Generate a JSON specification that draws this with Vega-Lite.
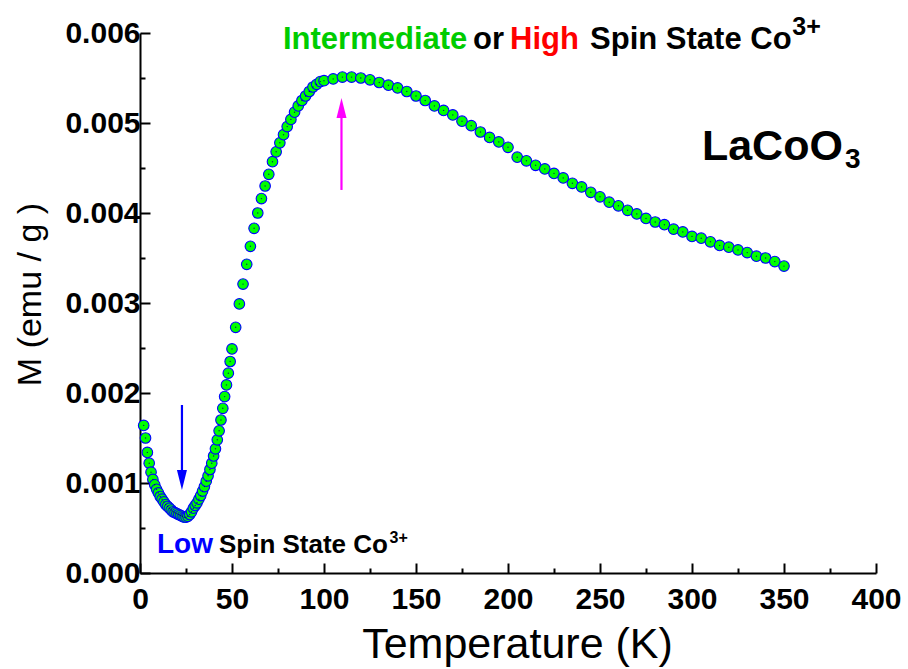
{
  "$schema": "https://vega.github.io/schema/vega-lite/v6.json",
  "width": 736,
  "height": 540,
  "autosize": {"type": "none"},
  "padding": {"left": 140, "top": 33, "right": 32, "bottom": 96},
  "background": "white",
  "config": {"view": {"stroke": null}},
  "datasets": {
    "m": [
      {"T": 2, "M": 0.00164}, {"T": 3, "M": 0.00150}, {"T": 4, "M": 0.00134}, {"T": 5, "M": 0.00122},
      {"T": 6, "M": 0.00112}, {"T": 7, "M": 0.00104}, {"T": 8, "M": 0.00098}, {"T": 9, "M": 0.00093},
      {"T": 10, "M": 0.00089}, {"T": 11, "M": 0.00085}, {"T": 12, "M": 0.00082}, {"T": 13, "M": 0.00079},
      {"T": 14, "M": 0.00076}, {"T": 15, "M": 0.00074}, {"T": 16, "M": 0.00072}, {"T": 17, "M": 0.00070},
      {"T": 18, "M": 0.00068}, {"T": 19, "M": 0.00067}, {"T": 20, "M": 0.00066}, {"T": 21, "M": 0.00065},
      {"T": 22, "M": 0.00064}, {"T": 23, "M": 0.00063}, {"T": 24, "M": 0.00062}, {"T": 25, "M": 0.00062},
      {"T": 26, "M": 0.00063}, {"T": 27, "M": 0.00065}, {"T": 28, "M": 0.00068}, {"T": 29, "M": 0.00072},
      {"T": 30, "M": 0.00075}, {"T": 31, "M": 0.00078}, {"T": 32, "M": 0.00082}, {"T": 33, "M": 0.00086},
      {"T": 34, "M": 0.00091}, {"T": 35, "M": 0.00096}, {"T": 36, "M": 0.00102}, {"T": 37, "M": 0.00108},
      {"T": 38, "M": 0.00115}, {"T": 39, "M": 0.00122}, {"T": 40, "M": 0.00130}, {"T": 41, "M": 0.00138},
      {"T": 42, "M": 0.00148}, {"T": 43, "M": 0.00158}, {"T": 44, "M": 0.00170}, {"T": 45, "M": 0.00183},
      {"T": 46, "M": 0.00196}, {"T": 47, "M": 0.00209}, {"T": 48, "M": 0.00222}, {"T": 49, "M": 0.00235},
      {"T": 50, "M": 0.00249}, {"T": 52, "M": 0.00273}, {"T": 54, "M": 0.00299}, {"T": 56, "M": 0.00321},
      {"T": 58, "M": 0.00343}, {"T": 60, "M": 0.00363}, {"T": 62, "M": 0.00383}, {"T": 64, "M": 0.00400},
      {"T": 66, "M": 0.00416}, {"T": 68, "M": 0.00430}, {"T": 70, "M": 0.00443}, {"T": 72, "M": 0.00457},
      {"T": 74, "M": 0.00468}, {"T": 76, "M": 0.00478}, {"T": 78, "M": 0.00487}, {"T": 80, "M": 0.00496},
      {"T": 82, "M": 0.00504}, {"T": 84, "M": 0.00512}, {"T": 86, "M": 0.00519}, {"T": 88, "M": 0.00525},
      {"T": 90, "M": 0.00530}, {"T": 92, "M": 0.00535}, {"T": 94, "M": 0.00540}, {"T": 96, "M": 0.00543},
      {"T": 98, "M": 0.00546}, {"T": 100, "M": 0.00547}, {"T": 105, "M": 0.00549}, {"T": 110, "M": 0.00551},
      {"T": 115, "M": 0.00551}, {"T": 120, "M": 0.00550}, {"T": 125, "M": 0.00548}, {"T": 130, "M": 0.00545},
      {"T": 135, "M": 0.00542}, {"T": 140, "M": 0.00539}, {"T": 145, "M": 0.00535}, {"T": 150, "M": 0.00530},
      {"T": 155, "M": 0.00525}, {"T": 160, "M": 0.00519}, {"T": 165, "M": 0.00514}, {"T": 170, "M": 0.00509},
      {"T": 175, "M": 0.00502}, {"T": 180, "M": 0.00497}, {"T": 185, "M": 0.00490}, {"T": 190, "M": 0.00484},
      {"T": 195, "M": 0.00479}, {"T": 200, "M": 0.00473}, {"T": 205, "M": 0.00462}, {"T": 210, "M": 0.00458},
      {"T": 215, "M": 0.00453}, {"T": 220, "M": 0.00449}, {"T": 225, "M": 0.00444}, {"T": 230, "M": 0.00439},
      {"T": 235, "M": 0.00433}, {"T": 240, "M": 0.00429}, {"T": 245, "M": 0.00423}, {"T": 250, "M": 0.00418},
      {"T": 255, "M": 0.00412}, {"T": 260, "M": 0.00408}, {"T": 265, "M": 0.00403}, {"T": 270, "M": 0.00399},
      {"T": 275, "M": 0.00394}, {"T": 280, "M": 0.00390}, {"T": 285, "M": 0.00387}, {"T": 290, "M": 0.00382},
      {"T": 295, "M": 0.00379}, {"T": 300, "M": 0.00374}, {"T": 305, "M": 0.00372}, {"T": 310, "M": 0.00368},
      {"T": 315, "M": 0.00364}, {"T": 320, "M": 0.00362}, {"T": 325, "M": 0.00359}, {"T": 330, "M": 0.00356},
      {"T": 335, "M": 0.00352}, {"T": 340, "M": 0.00350}, {"T": 345, "M": 0.00346}, {"T": 350, "M": 0.00341}
    ],
    "labels": [
      {"T": 77.7, "M": 0.005822, "text": "Intermediate", "group": "topGreen"},
      {"T": 181, "M": 0.005822, "text": "or", "group": "topBlack"},
      {"T": 201.1, "M": 0.005822, "text": "High", "group": "topRed"},
      {"T": 244.6, "M": 0.005822, "text": "Spin State Co", "group": "topBlack"},
      {"T": 354.5, "M": 0.005978, "text": "3+", "group": "topSup"},
      {"T": 305.4, "M": 0.004589, "text": "LaCoO", "group": "formula"},
      {"T": 383.2, "M": 0.0045, "text": "3", "group": "formulaSub"},
      {"T": 9.24, "M": 0.000222, "text": "Low", "group": "low"},
      {"T": 42.9, "M": 0.000222, "text": "Spin State Co", "group": "lowBlack"},
      {"T": 135.6, "M": 0.000333, "text": "3+", "group": "lowSup"}
    ]
  },
  "encoding": {
    "x": {"field": "T", "type": "quantitative", "scale": {"domain": [0, 400], "nice": false, "zero": false}},
    "y": {"field": "M", "type": "quantitative", "scale": {"domain": [0, 0.006], "nice": false, "zero": false}}
  },
  "layer": [
    {
      "data": {"name": "m"},
      "mark": {"type": "point", "shape": "circle", "filled": false, "fill": "#00ff00", "fillOpacity": 1, "stroke": "#0000ff", "strokeWidth": 1.1, "size": 112, "opacity": 1},
      "encoding": {
        "x": {"field": "T", "type": "quantitative",
          "axis": {
            "values": [0, 25, 50, 75, 100, 125, 150, 175, 200, 225, 250, 275, 300, 325, 350, 375, 400],
            "labelExpr": "datum.value % 50 === 0 ? datum.label : ''",
            "labelOverlap": false,
            "labelFlush": false,
            "grid": false,
            "domainColor": "#000000", "domainWidth": 2,
            "tickColor": "#000000", "tickWidth": 2,
            "tickSize": {"condition": {"test": "datum.value % 50 === 0", "value": -10}, "value": -5},
            "labelFont": "Liberation Sans", "labelFontWeight": "bold", "labelFontSize": 30, "labelColor": "#000000",
            "labelPadding": 21,
            "title": "Temperature (K)",
            "titleFont": "Liberation Sans", "titleFontWeight": "normal", "titleFontSize": 43, "titleColor": "#000000",
            "titleX": 377, "titleY": 84, "titleBaseline": "alphabetic", "titleAlign": "center"
          }},
        "y": {"field": "M", "type": "quantitative",
          "axis": {
            "values": [0, 0.0005, 0.001, 0.0015, 0.002, 0.0025, 0.003, 0.0035, 0.004, 0.0045, 0.005, 0.0055, 0.006],
            "format": ".3f",
            "labelExpr": "abs(datum.value*1000 - round(datum.value*1000)) < 1e-6 ? datum.label : ''",
            "labelOverlap": false,
            "labelFlush": false,
            "grid": false,
            "domainColor": "#000000", "domainWidth": 2,
            "tickColor": "#000000", "tickWidth": 2,
            "tickSize": {"condition": {"test": "abs(datum.value*1000 - round(datum.value*1000)) < 1e-6", "value": -10}, "value": -5},
            "labelFont": "Liberation Sans", "labelFontWeight": "bold", "labelFontSize": 30, "labelColor": "#000000",
            "labelPadding": 10,
            "title": "M (emu / g )",
            "titleFont": "Liberation Sans", "titleFontWeight": "normal", "titleFontSize": 34, "titleColor": "#000000",
            "titleAngle": -90, "titleX": -110, "titleY": 261, "titleBaseline": "middle", "titleAlign": "center"
          }}
      }
    },
    {
      "data": {"name": "m"},
      "mark": {"type": "point", "shape": "circle", "filled": true, "color": "#000066", "size": 2, "opacity": 0.8}
    },
    {
      "data": {"values": [{"T": 22.8, "M": 0.001867, "M2": 0.001056}]},
      "mark": {"type": "rule", "color": "#0000ff", "strokeWidth": 2.2},
      "encoding": {"y2": {"field": "M2"}}
    },
    {
      "data": {"values": [{"T": 22.8, "M": 0.001033}]},
      "mark": {"type": "point", "shape": "M -0.5 -1 L 0.5 -1 L 0 1 Z", "filled": true, "color": "#0000ff", "size": 400, "opacity": 1}
    },
    {
      "data": {"values": [{"T": 109.5, "M": 0.004256, "M2": 0.005089}]},
      "mark": {"type": "rule", "color": "#ff00ff", "strokeWidth": 2.2},
      "encoding": {"y2": {"field": "M2"}}
    },
    {
      "data": {"values": [{"T": 109.5, "M": 0.005167}]},
      "mark": {"type": "point", "shape": "M -0.5 1 L 0.5 1 L 0 -1 Z", "filled": true, "color": "#ff00ff", "size": 400, "opacity": 1}
    },
    {
      "data": {"name": "labels"},
      "transform": [{"filter": "datum.group === 'topGreen'"}],
      "mark": {"type": "text", "align": "left", "baseline": "alphabetic", "font": "Liberation Sans", "fontWeight": "bold", "fontSize": 31, "color": "#00cc00"},
      "encoding": {"text": {"field": "text"}}
    },
    {
      "data": {"name": "labels"},
      "transform": [{"filter": "datum.group === 'topBlack'"}],
      "mark": {"type": "text", "align": "left", "baseline": "alphabetic", "font": "Liberation Sans", "fontWeight": "bold", "fontSize": 31, "color": "#000000"},
      "encoding": {"text": {"field": "text"}}
    },
    {
      "data": {"name": "labels"},
      "transform": [{"filter": "datum.group === 'topRed'"}],
      "mark": {"type": "text", "align": "left", "baseline": "alphabetic", "font": "Liberation Sans", "fontWeight": "bold", "fontSize": 31, "color": "#ff0000"},
      "encoding": {"text": {"field": "text"}}
    },
    {
      "data": {"name": "labels"},
      "transform": [{"filter": "datum.group === 'topSup'"}],
      "mark": {"type": "text", "align": "left", "baseline": "alphabetic", "font": "Liberation Sans", "fontWeight": "bold", "fontSize": 25, "color": "#000000"},
      "encoding": {"text": {"field": "text"}}
    },
    {
      "data": {"name": "labels"},
      "transform": [{"filter": "datum.group === 'formula'"}],
      "mark": {"type": "text", "align": "left", "baseline": "alphabetic", "font": "Liberation Sans", "fontWeight": "bold", "fontSize": 43, "color": "#000000"},
      "encoding": {"text": {"field": "text"}}
    },
    {
      "data": {"name": "labels"},
      "transform": [{"filter": "datum.group === 'formulaSub'"}],
      "mark": {"type": "text", "align": "left", "baseline": "alphabetic", "font": "Liberation Sans", "fontWeight": "bold", "fontSize": 28, "color": "#000000"},
      "encoding": {"text": {"field": "text"}}
    },
    {
      "data": {"name": "labels"},
      "transform": [{"filter": "datum.group === 'low'"}],
      "mark": {"type": "text", "align": "left", "baseline": "alphabetic", "font": "Liberation Sans", "fontWeight": "bold", "fontSize": 28, "color": "#0000ff"},
      "encoding": {"text": {"field": "text"}}
    },
    {
      "data": {"name": "labels"},
      "transform": [{"filter": "datum.group === 'lowBlack'"}],
      "mark": {"type": "text", "align": "left", "baseline": "alphabetic", "font": "Liberation Sans", "fontWeight": "bold", "fontSize": 26, "color": "#000000"},
      "encoding": {"text": {"field": "text"}}
    },
    {
      "data": {"name": "labels"},
      "transform": [{"filter": "datum.group === 'lowSup'"}],
      "mark": {"type": "text", "align": "left", "baseline": "alphabetic", "font": "Liberation Sans", "fontWeight": "bold", "fontSize": 16, "color": "#000000"},
      "encoding": {"text": {"field": "text"}}
    }
  ]
}
